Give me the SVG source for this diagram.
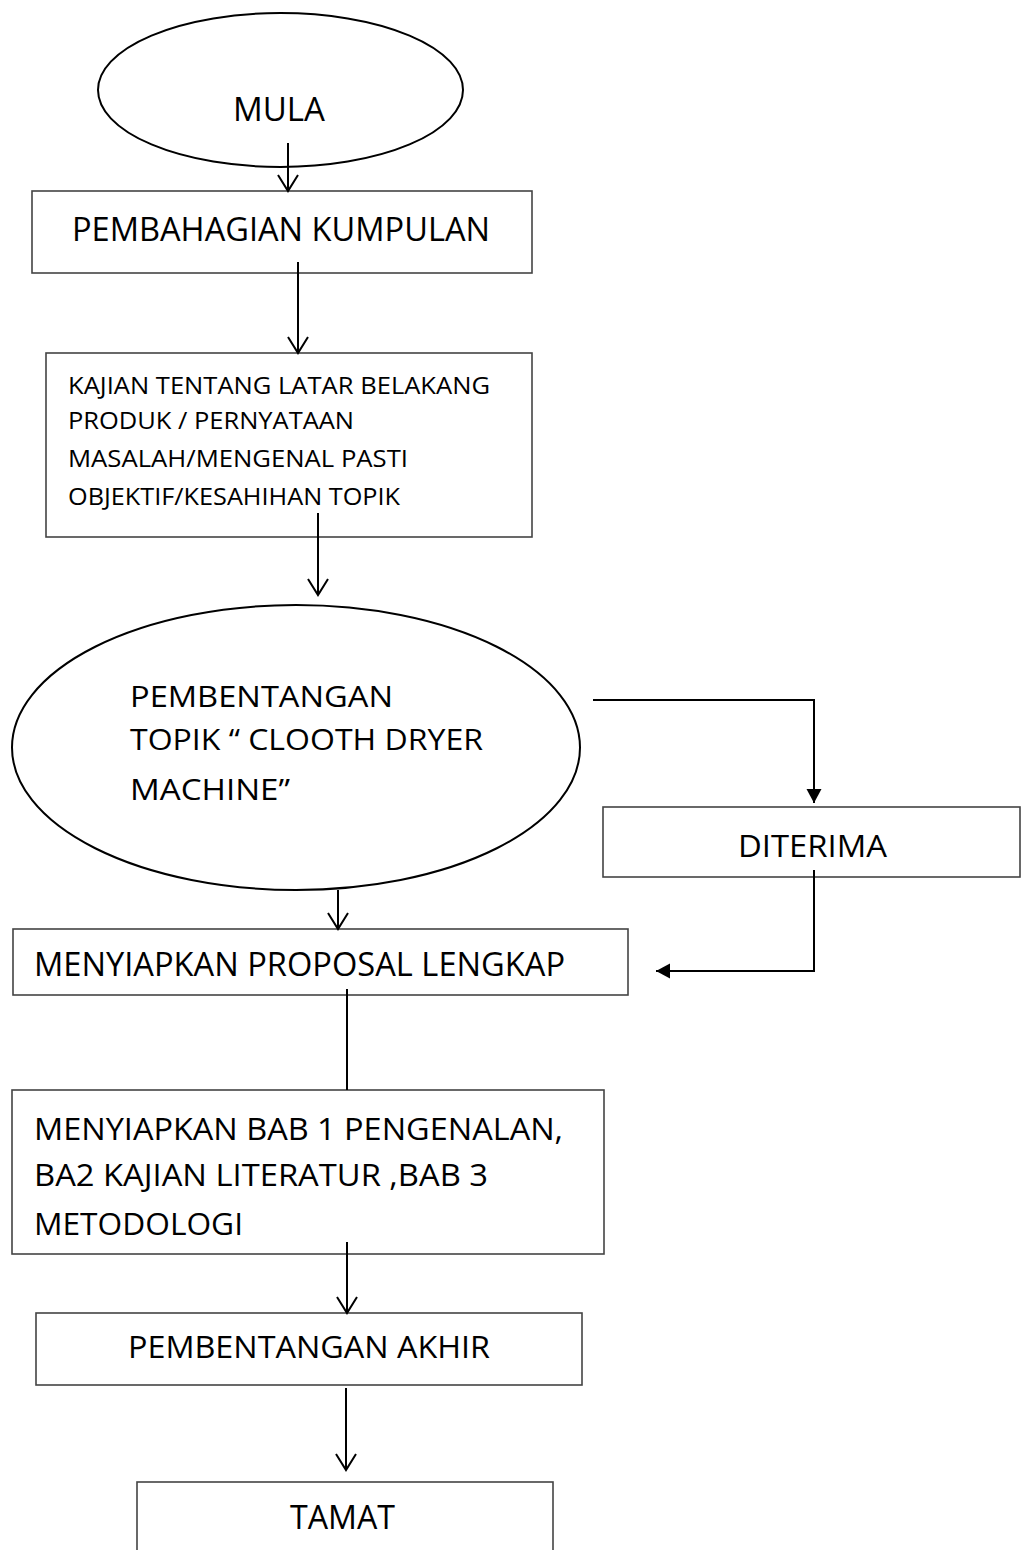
<svg xmlns="http://www.w3.org/2000/svg" width="1027" height="1550" viewBox="0 0 1027 1550">
<style>
.box{fill:#fff;stroke:#444;stroke-width:1.6}
.ell{fill:#fff;stroke:#000;stroke-width:2}
.t{font-family:"Open Sans","Liberation Sans",sans-serif;fill:#000}
.ln{fill:none;stroke:#000;stroke-width:2}
</style>
<defs>
<marker id="open" markerUnits="userSpaceOnUse" markerWidth="20" markerHeight="22" refX="17" refY="10" orient="auto" overflow="visible">
<path d="M1,0 L17,10 L1,20" fill="none" stroke="#000" stroke-width="2"/>
</marker>
<marker id="solid" markerUnits="userSpaceOnUse" markerWidth="16" markerHeight="16" refX="14" refY="7.5" orient="auto" overflow="visible">
<path d="M0,0 L14,7.5 L0,15 z" fill="#000"/>
</marker>
</defs>
<rect width="1027" height="1550" fill="#fff"/>

<g id="mula">
<ellipse class="ell" cx="280.5" cy="90" rx="182.5" ry="77"/>
<text class="t" x="233" y="121" font-size="32" textLength="92" lengthAdjust="spacingAndGlyphs">MULA</text>
</g>

<g id="pembahagian">
<rect class="box" x="32" y="191" width="500" height="82"/>
<text class="t" x="72" y="241" font-size="32" textLength="418" lengthAdjust="spacingAndGlyphs">PEMBAHAGIAN KUMPULAN</text>
</g>

<g id="kajian">
<rect class="box" x="46" y="353" width="486" height="184"/>
<text class="t" x="68" y="394" font-size="24" textLength="422" lengthAdjust="spacingAndGlyphs">KAJIAN TENTANG LATAR BELAKANG</text>
<text class="t" x="68" y="429" font-size="24" textLength="286" lengthAdjust="spacingAndGlyphs">PRODUK / PERNYATAAN</text>
<text class="t" x="68" y="467" font-size="24" textLength="340" lengthAdjust="spacingAndGlyphs">MASALAH/MENGENAL PASTI</text>
<text class="t" x="68" y="505" font-size="24" textLength="332" lengthAdjust="spacingAndGlyphs">OBJEKTIF/KESAHIHAN TOPIK</text>
</g>

<g id="pembentangan-topik">
<ellipse class="ell" cx="296" cy="747.5" rx="284" ry="142.5"/>
<text class="t" x="130" y="707" font-size="29" textLength="263" lengthAdjust="spacingAndGlyphs">PEMBENTANGAN</text>
<text class="t" x="130" y="750" font-size="29" textLength="353" lengthAdjust="spacingAndGlyphs">TOPIK “ CLOOTH DRYER</text>
<text class="t" x="130" y="800" font-size="29" textLength="160" lengthAdjust="spacingAndGlyphs">MACHINE”</text>
</g>

<g id="diterima">
<rect class="box" x="603" y="807" width="417" height="70"/>
<text class="t" x="738" y="857" font-size="31" textLength="149" lengthAdjust="spacingAndGlyphs">DITERIMA</text>
</g>

<g id="proposal">
<rect class="box" x="13" y="929" width="615" height="66"/>
<text class="t" x="34" y="976" font-size="33" textLength="531" lengthAdjust="spacingAndGlyphs">MENYIAPKAN PROPOSAL LENGKAP</text>
</g>

<g id="bab">
<rect class="box" x="12" y="1090" width="592" height="164"/>
<text class="t" x="34" y="1140" font-size="31" textLength="529" lengthAdjust="spacingAndGlyphs">MENYIAPKAN BAB 1 PENGENALAN,</text>
<text class="t" x="34" y="1186" font-size="31" textLength="454" lengthAdjust="spacingAndGlyphs">BA2 KAJIAN LITERATUR ,BAB 3</text>
<text class="t" x="34" y="1235" font-size="31" textLength="209" lengthAdjust="spacingAndGlyphs">METODOLOGI</text>
</g>

<g id="akhir">
<rect class="box" x="36" y="1313" width="546" height="72"/>
<text class="t" x="128" y="1358" font-size="31" textLength="362" lengthAdjust="spacingAndGlyphs">PEMBENTANGAN AKHIR</text>
</g>

<g id="tamat">
<rect class="box" x="137" y="1482" width="416" height="80"/>
<text class="t" x="290" y="1529" font-size="32" textLength="105" lengthAdjust="spacingAndGlyphs">TAMAT</text>
</g>

<g id="connectors">
<path class="ln" d="M288,143 V191" marker-end="url(#open)"/>
<path class="ln" d="M298,262 V353" marker-end="url(#open)"/>
<path class="ln" d="M318,513 V595" marker-end="url(#open)"/>
<path class="ln" d="M593,700 H814 V803" marker-end="url(#solid)"/>
<path class="ln" d="M814,870 V971 H656" marker-end="url(#solid)"/>
<path class="ln" d="M338,890 V929" marker-end="url(#open)"/>
<path class="ln" d="M347,989 V1090"/>
<path class="ln" d="M347,1242 V1313" marker-end="url(#open)"/>
<path class="ln" d="M346,1388 V1470" marker-end="url(#open)"/>
</g>
</svg>
